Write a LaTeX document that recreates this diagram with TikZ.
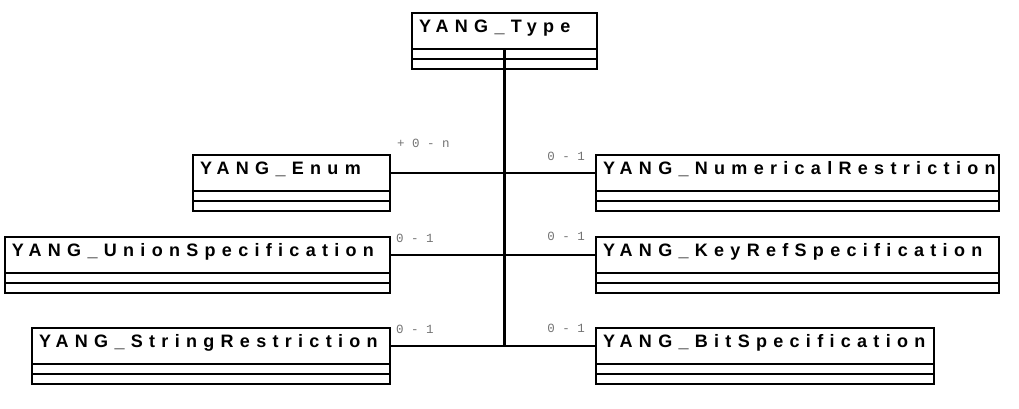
\documentclass[tikz,border=0pt]{standalone}
\usepackage{fontspec}
\usepackage{tikz}
\usetikzlibrary{positioning}
\newfontfamily\clsfont[LetterSpace=35]{Liberation Sans}
\newfontfamily\multfont{Liberation Mono}
\begin{document}
\begin{tikzpicture}[
  x=1pt, y=-1pt,
  cls/.style={draw, line width=1.6pt, outer sep=0pt, anchor=north west, align=left,
    inner xsep=7pt, minimum height=36pt, text height=12pt, text depth=10pt,
    font=\clsfont\fontsize{18}{18}\selectfont\bfseries},
  clsline/.style={line width=1.6pt},
  assoc/.style={line width=1.8pt},
  mult/.style={text=black!55, inner sep=0pt, font=\multfont\fontsize{12.5}{12.5}\selectfont}
]
\useasboundingbox (0,0) rectangle (1019,408);
% classes
\node[cls, text width=171pt] (type) at (412,13) {YANG\_Type};
\node[cls, text width=183pt] (enum) at (193,155) {YANG\_Enum};
\node[cls, text width=389pt] (num) at (596,155) {YANG\_NumericalRestriction};
\node[cls, text width=371pt] (union) at (5,237) {YANG\_UnionSpecification};
\node[cls, text width=389pt] (keyref) at (596,237) {YANG\_KeyRefSpecification};
\node[cls, text width=344pt] (string) at (32,328) {YANG\_StringRestriction};
\node[cls, text width=324pt] (bit) at (596,328) {YANG\_BitSpecification};
\foreach \c in {type,enum,num,union,keyref,string,bit}
  \draw[clsline] (\c.south west) rectangle ([yshift=-10pt]\c.south east)
    ([yshift=-10pt]\c.south west) rectangle ([yshift=-20pt]\c.south east);
% associations
\draw[assoc, line width=2.4pt] (type.south) -- (type.south |- string.east);
\draw[assoc] (enum.east) -- (num.west);
\draw[assoc] (union.east) -- (keyref.west);
\draw[assoc] (string.east) -- (bit.west);
% multiplicities
\node[mult, anchor=base west] (m-enum) at ([xshift=7pt, yshift=26pt]enum.east) {+ 0 - n};
\node[mult, anchor=base east] (m-num) at ([xshift=-11pt, yshift=13pt]num.west) {0 - 1};
\node[mult, anchor=base west] (m-union) at ([xshift=6pt, yshift=13pt]union.east) {0 - 1};
\node[mult, anchor=base east] (m-keyref) at ([xshift=-11pt, yshift=15pt]keyref.west) {0 - 1};
\node[mult, anchor=base west] (m-string) at ([xshift=6pt, yshift=13pt]string.east) {0 - 1};
\node[mult, anchor=base east] (m-bit) at ([xshift=-11pt, yshift=14pt]bit.west) {0 - 1};
\end{tikzpicture}
\end{document}
